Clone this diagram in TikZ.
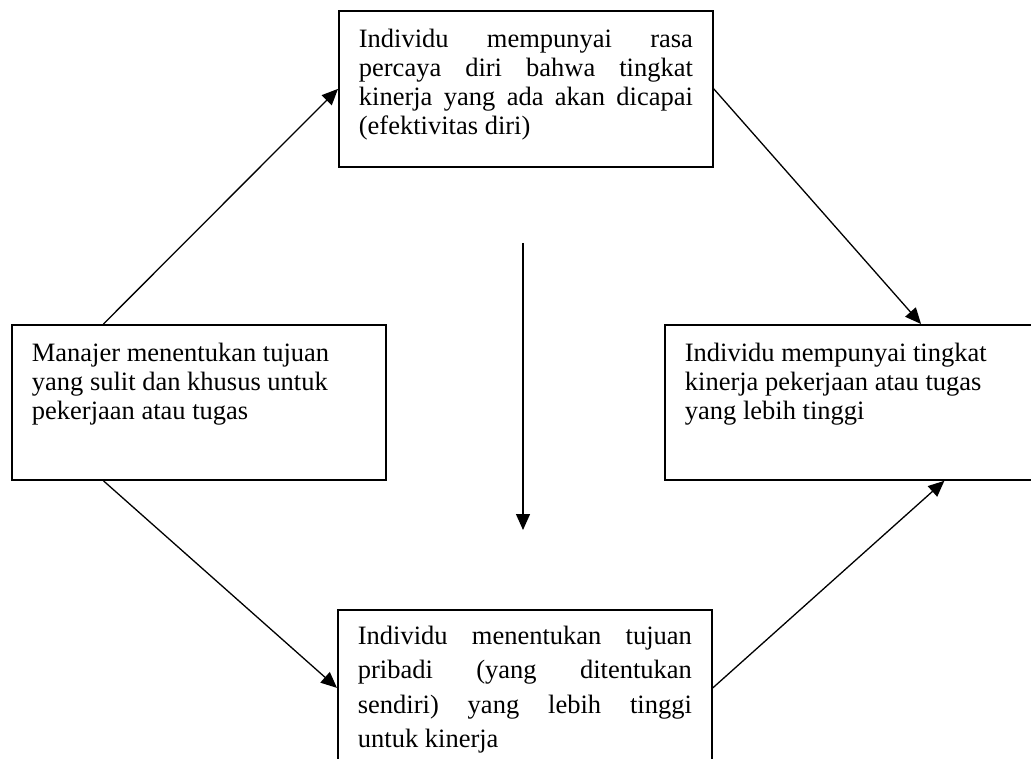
\documentclass[tikz,border=0pt]{standalone}
\usepackage{fontspec}
\setmainfont{Liberation Serif}
\usetikzlibrary{arrows.meta,calc}

\tikzset{
  stepbox/.style={draw, line width=1.8pt, anchor=north west, inner xsep=20pt, inner ysep=16pt,
    font=\fontsize{26.5}{29}\selectfont},
  flow/.style={line width=1.3pt, -{Triangle[length=16pt,width=14pt]}},
}

% justified and ragged box texts
\newcommand{\jtext}[2]{\parbox[t][#1][t]{334pt}{\tolerance=10000\hbadness=10000\hyphenpenalty=10000\strut #2}}
\newcommand{\ltext}[2]{\parbox[t][#1][t]{334pt}{\raggedright\strut #2}}

\begin{document}
\begin{tikzpicture}[x=1pt,y=-1pt]
\useasboundingbox (0,0) rectangle (1031,759);
\clip (0,0) rectangle (1031,759);
% boxes
\node[stepbox] (goal) at (338,10) {\jtext{124pt}{Individu mempunyai rasa\linebreak percaya diri bahwa tingkat\linebreak kinerja yang ada akan dicapai\linebreak (efektivitas diri)}};
\node[stepbox] (mgr) at (11,324) {\ltext{123pt}{Manajer menentukan tujuan\\ yang sulit dan khusus untuk\\ pekerjaan atau tugas}};
\node[stepbox] (perf) at (664,324) {\ltext{123pt}{Individu mempunyai tingkat\\ kinerja pekerjaan atau tugas\\ yang lebih tinggi}};
\node[stepbox, inner ysep=10pt, font=\fontsize{26.5}{34.5}\selectfont] (own) at (337,609) {\jtext{136pt}{Individu menentukan tujuan\linebreak pribadi (yang ditentukan\linebreak sendiri) yang lebih tinggi\linebreak untuk kinerja}};
% arrows
\draw[flow] ($(mgr.north west)!0.246!(mgr.north east)$) -- (goal.west);
\draw[flow] (goal.east) -- ($(perf.north west)!0.684!(perf.north east)$);
\draw[flow] ($(mgr.south west)!0.246!(mgr.south east)$) -- (own.west);
\draw[flow] (own.east) -- ($(perf.south west)!0.746!(perf.south east)$);
\coordinate (vtop) at (523,243);
\coordinate (vbot) at (523,530);
\draw[flow] (vtop) -- (vbot);
\end{tikzpicture}
\end{document}
